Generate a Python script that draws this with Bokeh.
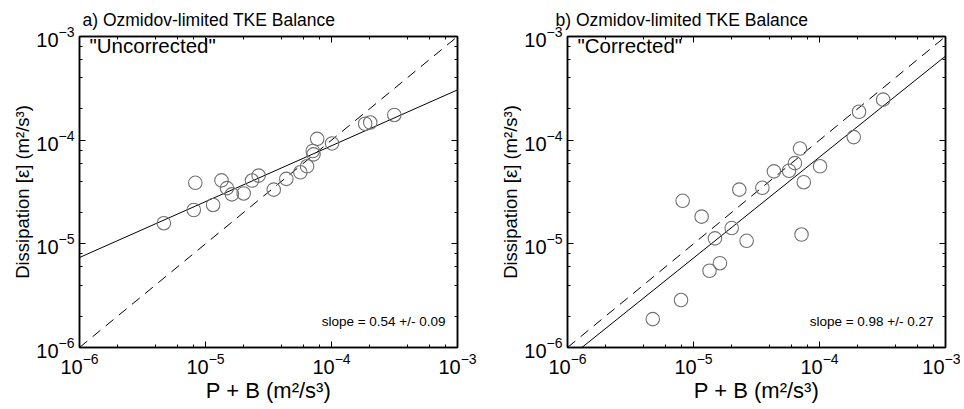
from bokeh.plotting import figure
from bokeh.models import LogAxis, LogTicker, Label, CustomJSTickFormatter
from bokeh.layouts import row
from bokeh.embed import file_html
from bokeh.resources import INLINE
import numpy as np

# ---- data ----
pb_a = [4.67e-6, 8.07e-6, 8.3e-6, 1.15e-5, 1.34e-5, 1.48e-5, 1.62e-5, 2.01e-5, 2.34e-5,
        2.64e-5, 3.48e-5, 4.38e-5, 5.66e-5, 6.4e-5, 7.1e-5, 7.2e-5, 7.7e-5, 1.01e-4,
        1.85e-4, 2.03e-4, 3.15e-4]
eps_a = [1.58e-5, 2.12e-5, 3.88e-5, 2.37e-5, 4.09e-5, 3.45e-5, 3.0e-5, 3.06e-5, 4.08e-5,
         4.55e-5, 3.33e-5, 4.23e-5, 4.9e-5, 5.6e-5, 7.86e-5, 7.3e-5, 1.03e-4, 9.3e-5,
         1.44e-4, 1.48e-4, 1.75e-4]

pb_b = [4.75e-6, 7.96e-6, 8.2e-6, 1.16e-5, 1.34e-5, 1.48e-5, 1.62e-5, 2.01e-5, 2.31e-5,
        2.64e-5, 3.52e-5, 4.35e-5, 5.73e-5, 6.38e-5, 7.0e-5, 7.5e-5, 7.2e-5, 1.01e-4,
        1.87e-4, 2.06e-4, 3.2e-4]
eps_b = [1.88e-6, 2.87e-6, 2.6e-5, 1.83e-5, 5.5e-6, 1.13e-5, 6.5e-6, 1.42e-5, 3.33e-5,
         1.07e-5, 3.47e-5, 5.0e-5, 5.07e-5, 6.0e-5, 8.3e-5, 3.93e-5, 1.23e-5, 5.6e-5,
         1.07e-4, 1.88e-4, 2.46e-4]

# fit lines: log10(eps) = slope * log10(PB) + intercept
fit_a = (0.539, -3.515 + 0.539 * 3)
fit_b = (0.974, -3.189 + 0.974 * 3)

titles = ["a) Ozmidov-limited TKE Balance", "b) Ozmidov-limited TKE Balance"]
tags = ['"Uncorrected"', '"Corrected"']
slopes = ["slope = 0.54 +/- 0.09", "slope = 0.98 +/- 0.27"]
x_label = "P + B (m\u00b2/s\u00b3)"
y_label = "Dissipation [\u03b5] (m\u00b2/s\u00b3)"
limits = (1e-6, 1e-3)

FONT = "Liberation Sans"
FH = 317


def style_axis(ax):
    ax.ticker = LogTicker(mantissas=[1])
    ax.major_tick_in = 6
    ax.major_tick_out = 0
    ax.minor_tick_in = 3
    ax.minor_tick_out = 0
    ax.axis_line_color = "black"
    ax.axis_line_width = 1.5
    ax.major_tick_line_color = "black"
    ax.minor_tick_line_color = "black"
    ax.major_label_text_font = FONT
    ax.major_label_text_font_size = "20px"
    ax.major_label_text_color = "black"
    ax.major_label_standoff = 5
    ax.axis_label_text_font = FONT
    ax.axis_label_text_font_style = "normal"
    ax.axis_label_text_color = "black"


def make_panel(pb, eps, fit, title, tag, slope_txt, width, bl, br, t_off):
    p = figure(width=width, height=405, x_axis_type="log", y_axis_type="log",
               x_range=limits, y_range=limits, output_backend="svg",
               toolbar_location=None, min_border_left=bl, min_border_right=br,
               min_border_top=35, min_border_bottom=53)
    p.grid.visible = False
    p.outline_line_color = "black"
    p.outline_line_width = 1.5
    p.background_fill_color = "white"
    p.border_fill_color = "white"

    p.title.text = title
    p.title.text_font = FONT
    p.title.text_font_size = "17.5px"
    p.title.text_font_style = "normal"
    p.title.text_color = "black"
    p.title.align = "left"
    p.title.offset = t_off
    p.title.standoff = 14

    style_axis(p.below[0])
    style_axis(p.left[0])
    for loc in ("above", "right"):
        ax = LogAxis()
        style_axis(ax)
        ax.formatter = CustomJSTickFormatter(code="return ''")
        ax.major_label_text_font_size = "1px"
        ax.major_label_standoff = 0
        ax.axis_label_standoff = 0
        p.add_layout(ax, loc)

    p.below[0].axis_label = x_label
    p.below[0].axis_label_text_font_size = "22px"
    p.below[0].major_label_standoff = 5
    p.below[0].axis_label_standoff = 1
    p.left[0].axis_label = y_label
    p.left[0].axis_label_text_font_size = "18.5px"
    p.left[0].axis_label_standoff = 0

    xs = np.array(limits)
    p.line(xs, xs, line_color="black", line_width=1, line_dash="10 7")
    yf = 10 ** (fit[0] * np.log10(xs) + fit[1])
    p.line(xs, yf, line_color="black", line_width=1)
    p.scatter(pb, eps, marker="circle", size=13.5, fill_color=None,
              line_color="#707070", line_width=1.1)

    common = dict(x_units="screen", y_units="screen", text_font=FONT, text_color="black")
    p.add_layout(Label(x=10, y=FH - 15, text=tag, text_font_size="20.5px",
                       text_baseline="middle", **common))
    p.add_layout(Label(x=366, y=26, text=slope_txt, text_font_size="13.5px",
                       text_baseline="middle", text_align="right", **common))
    return p


p1 = make_panel(pb_a, eps_a, fit_a, titles[0], tags[0], slopes[0], 480, 79, 23, 3)
p2 = make_panel(pb_b, eps_b, fit_b, titles[1], tags[1], slopes[1], 480, 87, 15, -12)
layout = row(p1, p2)
open("out.html", "w").write(file_html(layout, INLINE))
